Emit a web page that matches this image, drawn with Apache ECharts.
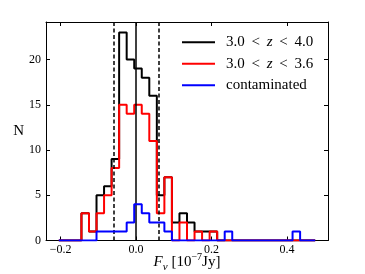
<!DOCTYPE html>
<html><head><meta charset="utf-8">
<script src="https://cdn.jsdelivr.net/npm/echarts@6/dist/echarts.min.js"></script>
<style>html,body{margin:0;padding:0;background:#fff}#c{width:365px;height:274px}</style>
</head><body><div id="c"></div>
<script>
// histogram bin edges (F_nu, 1e-7 Jy)
const binEdges = [-0.205,-0.185,-0.165,-0.145,-0.125,-0.105,-0.085,-0.065,-0.045,-0.025,
  -0.005,0.015,0.035,0.055,0.075,0.095,0.115,0.135,0.155,0.175,
  0.195,0.215,0.235,0.255,0.275,0.295,0.315,0.335,0.355,0.375,
  0.395,0.415,0.435,0.455,0.475];
const seriesNames = ['3.0 < z < 4.0', '3.0 < z < 3.6', 'contaminated'];
const countsAll    = [0,0,0,3,1,5,6,9,23,20,19,18,16,5,7,2,3,2,1,1,1,0,0,0,0,0,0,0,0,0,0,0,0,0];
const countsLowZ   = [0,0,0,3,1,3,5,8,15,14,15,14,11,3,7,0,2,0,1,0,1,0,0,0,0,0,0,0,0,0,0,0,0,0];
const countsContam = [0,0,0,0,0,1,1,1,1,2,4,3,2,2,1,0,0,0,0,0,0,0,1,0,0,0,0,0,0,0,0,1,0,0];
const xTicks = [-0.2, 0, 0.2, 0.4];
const yTicks = [0, 5, 10, 15, 20];
const dashedLines = [-0.06, 0.058];
const solidLine = 0;

const FONT = 'Liberation Serif';
function stepPoints(counts){
  const pts = [[binEdges[0], 0]];
  for (let i = 0; i < counts.length; i++){
    pts.push([binEdges[i], counts[i]]);
    pts.push([binEdges[i+1], counts[i]]);
  }
  pts.push([binEdges[binEdges.length-1], 0]);
  return pts;
}
const colors = ['#000000', '#ff0000', '#0000ff'];
const allCounts = [countsAll, countsLowZ, countsContam];
const xmin = -0.239, xmax = 0.509, ymin = 0, ymax = 24.15;

const histSeries = allCounts.map((c, i) => ({
  name: seriesNames[i], type: 'line', data: stepPoints(c), symbol: 'none',
  lineStyle: {color: colors[i], width: 2}, itemStyle: {color: colors[i]},
  z: 3 + i, animation: false, silent: true
}));
const vSeries = {
  type: 'line', data: [], silent: true, z: 10,
  markLine: {
    symbol: 'none', silent: true, animation: false, label: {show: false},
    data: [
      {xAxis: dashedLines[0], lineStyle: {type: [4, 2.5], color: '#000', width: 1.5}},
      {xAxis: dashedLines[1], lineStyle: {type: [4, 2.5], color: '#000', width: 1.5}},
      {xAxis: solidLine, lineStyle: {type: 'solid', color: '#000', width: 1.5}}
    ]
  }
};
const fmt = v => {
  const s = Math.abs(v).toFixed(1);
  return v < -1e-9 ? '\u2212' + s : s;
};
const chart = echarts.init(document.getElementById('c'), null, {renderer: 'canvas'});
chart.setOption({
  animation: false,
  backgroundColor: '#fff',
  grid: {left: 46, right: 37, top: 22, bottom: 33.5, containLabel: false, outerBoundsMode: 'none'},
  legend: {
    orient: 'vertical', left: 182, top: 34.8, padding: 0, icon: 'rect',
    itemWidth: 33, itemHeight: 2, itemGap: 6.5,
    data: seriesNames,
    textStyle: {fontFamily: FONT, fontSize: 15, color: '#000', lineHeight: 15, padding: [0,0,0,6],
      rich: {i: {fontFamily: FONT, fontSize: 15, fontStyle: 'italic', color: '#000', lineHeight: 15}}},
    formatter: name => name.replace(' z ', ' {i|z} ').replace(/ < /g, ' \u2009<\u2009 ')
  },
  xAxis: [{
    type: 'value', min: xmin, max: xmax, position: 'bottom',
    axisLine: {onZero: false, lineStyle: {color: '#000', width: 1}},
    axisTick: {inside: true, length: 4, customValues: xTicks, lineStyle: {color: '#000'}},
    axisLabel: {customValues: xTicks, formatter: fmt, fontFamily: FONT, fontSize: 12, color: '#000', margin: 3},
    splitLine: {show: false},
    name: '{i|F}{s|\u03bd} [10{p|\u22127}Jy]', nameLocation: 'middle', nameGap: 12, nameMoveOverlap: false,
    nameTextStyle: {fontFamily: FONT, fontSize: 15, color: '#000', lineHeight: 20,
      rich: {
        i: {fontFamily: FONT, fontSize: 15, fontStyle: 'italic', color: '#000', lineHeight: 20},
        s: {fontFamily: FONT, fontSize: 11, fontStyle: 'italic', color: '#000', verticalAlign: 'bottom', lineHeight: 20, padding: [6,0,0,0]},
        p: {fontFamily: FONT, fontSize: 10, color: '#000', verticalAlign: 'top', lineHeight: 20, padding: [0,0,6,0]}
      }}
  }, {
    type: 'value', min: xmin, max: xmax, position: 'top',
    axisLine: {onZero: false, lineStyle: {color: '#000', width: 1}},
    axisTick: {inside: true, length: 4, customValues: xTicks, lineStyle: {color: '#000'}},
    axisLabel: {show: false}, splitLine: {show: false}
  }],
  yAxis: [{
    type: 'value', min: ymin, max: ymax, position: 'left',
    axisLine: {show: true, onZero: false, lineStyle: {color: '#000', width: 1}},
    axisTick: {show: true, inside: true, length: 4, customValues: yTicks, lineStyle: {color: '#000'}},
    axisLabel: {customValues: yTicks, fontFamily: FONT, fontSize: 12, color: '#000', margin: 5},
    splitLine: {show: false},
    name: 'N', nameLocation: 'middle', nameRotate: 0, nameGap: 22, nameMoveOverlap: false,
    nameTextStyle: {fontFamily: FONT, fontSize: 15, color: '#000'}
  }, {
    type: 'value', min: ymin, max: ymax, position: 'right',
    axisLine: {show: true, onZero: false, lineStyle: {color: '#000', width: 1}},
    axisTick: {show: true, inside: true, length: 4, customValues: yTicks, lineStyle: {color: '#000'}},
    axisLabel: {show: false}, splitLine: {show: false}
  }],
  series: [...histSeries, vSeries]
});
</script></body></html>
